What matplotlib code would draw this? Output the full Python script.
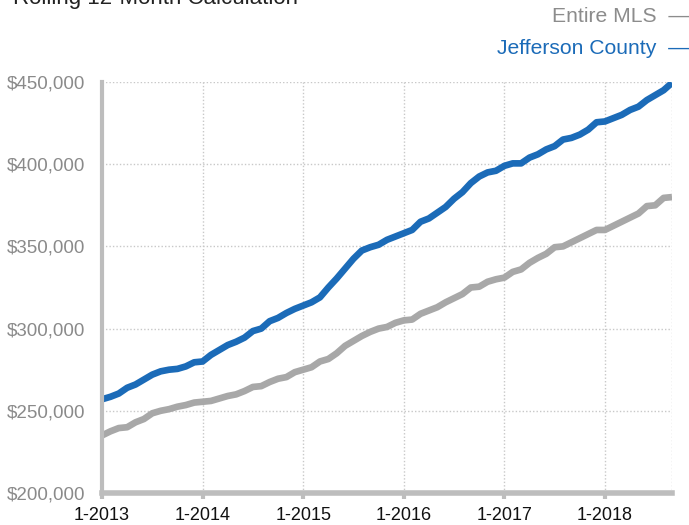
import numpy as np
import pandas as pd
import matplotlib
matplotlib.use("Agg")
from matplotlib import pyplot as plt
from matplotlib.ticker import FuncFormatter

plt.rcParams['font.family'] = ['Liberation Sans', 'DejaVu Sans']

# monthly, Jan 2013 .. Sep 2018 (values in $1000)
months = pd.date_range('2013-01-01', '2018-09-01', freq='MS')
jefferson = [257, 258.5, 260.5, 264, 266, 269, 272, 274, 275, 275.5, 277, 279.5,
             280, 284, 287, 290, 292, 294.5, 298.5, 300, 304.5, 306.5, 309.5, 312,
             314, 316, 319, 325, 330.5, 336.5, 342.5, 347.5, 349.5, 351, 354, 356,
             358, 360, 365, 367, 370.5, 374, 379, 383, 388.5, 392.5, 395, 396,
             399, 400.5, 400.5, 404, 406, 409, 411, 415, 416, 418, 421, 425.5,
             426, 428, 430, 433, 435, 439, 442, 445, 449.5]
entire_mls = [235, 237.5, 239.5, 240, 243, 245, 248.5, 250, 251, 252.5, 253.5, 255,
              255.5, 256, 257.5, 259, 260, 262, 264.5, 265, 267.5, 269.5, 270.5, 273.5,
              275, 276.5, 280, 281.5, 285, 289.5, 292.5, 295.5, 298, 300, 301, 303.5,
              305, 305.5, 309, 311, 313, 316, 318.5, 321, 325, 325.5, 328.5, 330,
              331, 334.5, 336, 340, 343, 345.5, 349.5, 350, 352.5, 355, 357.5, 360,
              360, 362.5, 365, 367.5, 370, 374.5, 375, 379.5, 380]
year_ticks = [0, 12, 24, 36, 48, 60]
year_labels = ['1-2013', '1-2014', '1-2015', '1-2016', '1-2017', '1-2018']
y_ticks = [200000, 250000, 300000, 350000, 400000, 450000]

blue = '#1b6bb8'
grey = '#a8a8a8'
axis_grey = '#bdbdbd'

fig = plt.figure(figsize=(6.89, 5.25), dpi=100)
ax = fig.add_axes([102 / 689, 32 / 525, 570 / 689, 411 / 525])

x = np.arange(len(months))
ax.plot(x, np.array(entire_mls) * 1000, color=grey, lw=4.8, solid_capstyle='butt', zorder=3)
ax.plot(x, np.array(jefferson) * 1000, color=blue, lw=4.8, solid_capstyle='butt', zorder=4)

ax.set_xlim(0, len(months) - 1)
ax.set_ylim(200000, 450000)
ax.set_xticks(year_ticks)
ax.set_xticklabels(year_labels)
ax.set_yticks(y_ticks)
ax.yaxis.set_major_formatter(FuncFormatter(lambda v, p: '${:,.0f}'.format(v)))

ax.grid(True, color='#c8c8c8', linestyle=(0, (1, 1.5)), lw=1)
ax.axvline(len(months) - 1, color='#c8c8c8', linestyle=(0, (1, 1.5)), lw=1)

for s in ['top', 'right']:
    ax.spines[s].set_visible(False)
ax.spines['left'].set_color(axis_grey)
ax.spines['left'].set_linewidth(3)
ax.spines['bottom'].set_color(axis_grey)
ax.spines['bottom'].set_linewidth(4)
ax.spines['left'].set_zorder(5)
ax.spines['bottom'].set_zorder(5)

ax.tick_params(axis='y', length=0, pad=12, labelsize=13.5, labelcolor='#8a8a8a')
ax.tick_params(axis='x', length=4, width=3, color=axis_grey, pad=6, labelsize=13, labelcolor='#111111')

fig.text(13 / 689, 1 - 4 / 525, 'Rolling 12-Month Calculation', fontsize=16,
         color='#222222', ha='left', va='baseline')
fig.text(689 / 689, 1 - 17 / 525, 'Entire MLS  —', fontsize=15.2, color='#8c8c8c',
         ha='right', va='center')
fig.text(689 / 689, 1 - 49 / 525, 'Jefferson County  —', fontsize=15.2, color=blue,
         ha='right', va='center')

plt.savefig('out.png', dpi=100)
